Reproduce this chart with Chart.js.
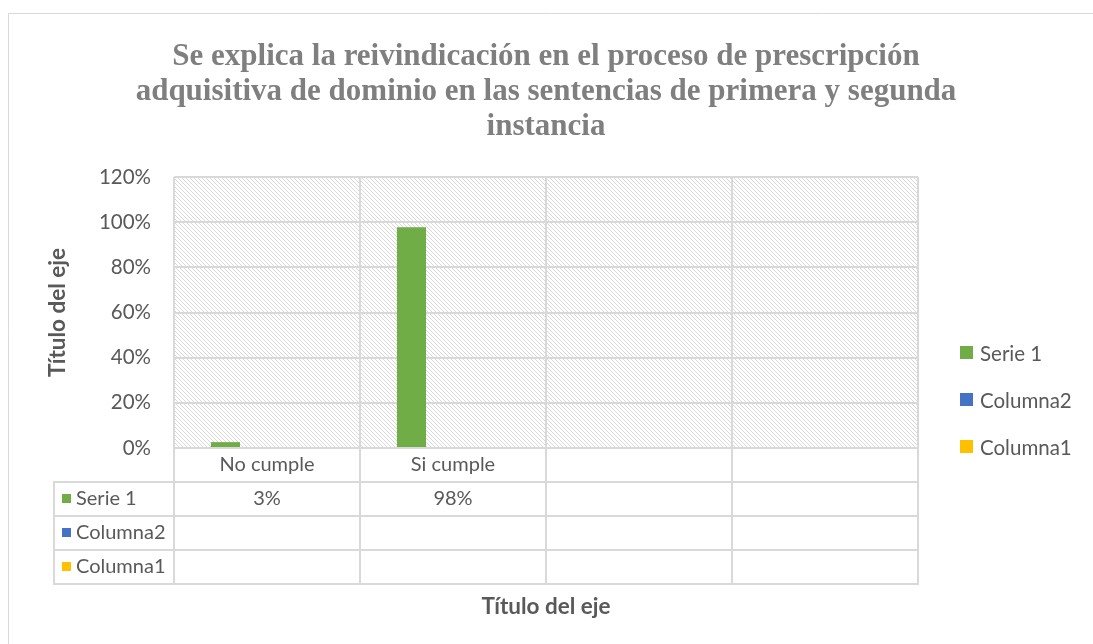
<!DOCTYPE html>
<html>
<head>
<meta charset="utf-8">
<script src="https://cdn.jsdelivr.net/npm/chart.js@4.4.1/dist/chart.umd.min.js"></script>
<style>
html,body{margin:0;padding:0;background:#fff;}
#wrap{width:1093px;height:644px;position:relative;}
</style>
</head>
<body>
<div id="wrap"><canvas id="c" width="1093" height="644"></canvas></div>
<script>
const titleLines = ["Se explica la reivindicación en el proceso de prescripción", "adquisitiva de dominio en las sentencias de primera y segunda", "instancia"];
const categories = ["No cumple", "Si cumple", "", ""];
const seriesNames = ["Serie 1", "Columna2", "Columna1"];
const serie1 = [0.026, 0.977, null, null];
const columna2 = [null, null, null, null];
const columna1 = [null, null, null, null];
const seriesColors = ["#70AD47", "#4472C4", "#FFC000"];
const yTicks = [0, 0.2, 0.4, 0.6, 0.8, 1.0, 1.2];
const axisTitle = "Título del eje";

const allSeries = [serie1, columna2, columna1];
const FONT = "Lato, 'Open Sans', sans-serif";
const TXT = "#595959";
const GRID = "#d9d9d9";

function makePattern(ctx) {
  const p = document.createElement('canvas');
  p.width = 8; p.height = 8;
  const g = p.getContext('2d');
  g.fillStyle = '#ffffff'; g.fillRect(0,0,8,8);
  g.fillStyle = '#d9d9d9';
  for (let y = 0; y < 8; y++) for (let x = 0; x < 8; x++) {
    if (((x - y) % 4 + 4) % 4 === 0) g.fillRect(x, y, 1, 1);
  }
  return ctx.createPattern(p, 'repeat');
}

const ROW_H = 34;
const TABLE_LEFT = 54;

const decor = {
  id: 'decor',
  beforeDraw(chart) {
    const ctx = chart.ctx;
    const a = chart.chartArea;
    ctx.save();
    ctx.fillStyle = '#fff';
    ctx.fillRect(0,0,chart.width,chart.height);
    ctx.strokeStyle = '#d9d9d9';
    ctx.lineWidth = 1;
    ctx.beginPath();
    ctx.moveTo(8.5, 700); ctx.lineTo(8.5, 13.5); ctx.lineTo(1100, 13.5);
    ctx.stroke();
    ctx.fillStyle = makePattern(ctx);
    ctx.fillRect(a.left, a.top, a.right - a.left, a.bottom - a.top);
    ctx.fillStyle = '#7f7f7f';
    ctx.font = "bold 31px 'Liberation Serif', 'Times New Roman', serif";
    ctx.textAlign = 'center';
    ctx.textBaseline = 'alphabetic';
    const cx = (a.left + a.right) / 2;
    const ty = [65, 100, 135];
    titleLines.forEach((t, i) => ctx.fillText(t, cx, ty[i]));
    ctx.restore();
  },
  afterDraw(chart) {
    const ctx = chart.ctx;
    const a = chart.chartArea;
    const xs = chart.scales.x;
    const n = categories.length;
    const w = (a.right - a.left) / n;
    const bounds = [];
    for (let i = 0; i <= n; i++) bounds.push(Math.round(xs.getPixelForValue(i) - w/2));
    ctx.save();
    ctx.strokeStyle = GRID;
    ctx.lineWidth = 2;
    const yb = Math.round(a.bottom);
    const rows = seriesNames.length;
    const tableBottom = yb + ROW_H * (rows + 1);
    bounds.forEach(x => {
      ctx.beginPath(); ctx.moveTo(x, a.top); ctx.lineTo(x, tableBottom + 1); ctx.stroke();
    });
    ctx.beginPath(); ctx.moveTo(TABLE_LEFT, yb + ROW_H - 1); ctx.lineTo(TABLE_LEFT, tableBottom + 1); ctx.stroke();
    ctx.beginPath(); ctx.moveTo(bounds[0], yb); ctx.lineTo(bounds[n], yb); ctx.stroke();
    for (let r = 1; r <= rows + 1; r++) {
      const y = yb + ROW_H * r;
      ctx.beginPath(); ctx.moveTo(TABLE_LEFT - 1, y); ctx.lineTo(bounds[n] + 1, y); ctx.stroke();
    }
    ctx.font = "20px " + FONT;
    ctx.textBaseline = 'middle';
    for (let r = 0; r < rows; r++) {
      const cyy = yb + ROW_H * (r + 1) + ROW_H / 2;
      ctx.fillStyle = seriesColors[r];
      ctx.fillRect(TABLE_LEFT + 8, cyy - 5, 9, 9);
      ctx.fillStyle = TXT;
      ctx.textAlign = 'left';
      ctx.fillText(seriesNames[r], TABLE_LEFT + 22, cyy);
      ctx.textAlign = 'center';
      for (let i = 0; i < n; i++) {
        const v = allSeries[r][i];
        if (v !== null && v !== undefined) ctx.fillText(Math.round(v * 100) + '%', xs.getPixelForValue(i), cyy);
      }
    }
    ctx.font = "20.5px " + FONT;
    ctx.textAlign = 'left';
    const ly = [353, 400, 447];
    for (let r = 0; r < rows; r++) {
      ctx.fillStyle = seriesColors[r];
      ctx.fillRect(960, ly[r] - 7, 13, 13);
      ctx.fillStyle = TXT;
      ctx.fillText(seriesNames[r], 980, ly[r] + 1);
    }
    ctx.restore();
  }
};

new Chart(document.getElementById('c'), {
  type: 'bar',
  data: {
    labels: categories,
    datasets: allSeries.map((d, i) => ({
      label: seriesNames[i], data: d, backgroundColor: seriesColors[i],
      categoryPercentage: 0.67, barPercentage: 0.70
    }))
  },
  options: {
    responsive: false,
    animation: false,
    devicePixelRatio: 1,
    layout: { padding: { left: 0, right: 175, top: 177, bottom: 0 } },
    plugins: { legend: { display: false }, title: { display: false }, tooltip: { enabled: false } },
    scales: {
      x: {
        grid: { display: false, drawTicks: false },
        border: { display: false },
        ticks: { color: TXT, font: { family: FONT, size: 20 }, padding: 5, maxRotation: 0, autoSkip: false },
        title: { display: true, text: axisTitle, color: TXT, font: { family: FONT, size: 22.5, weight: 'bold' }, padding: { top: 0, bottom: 24 } },
        afterFit(s) { s.height = 196; }
      },
      y: {
        min: 0, max: 1.2,
        afterBuildTicks(s) { s.ticks = yTicks.map(v => ({ value: v })); },
        grid: { color: GRID, lineWidth: 2, drawTicks: false },
        border: { display: false },
        ticks: { color: TXT, font: { family: FONT, size: 20.5 }, padding: 23, callback: v => Math.round(v * 100) + '%' },
        title: { display: true, text: axisTitle, color: TXT, font: { family: FONT, size: 22.5, weight: 'bold' }, padding: { top: 44, bottom: 0 } },
        afterFit(s) { s.width = 174; }
      }
    }
  },
  plugins: [decor]
});
</script>
</body>
</html>
